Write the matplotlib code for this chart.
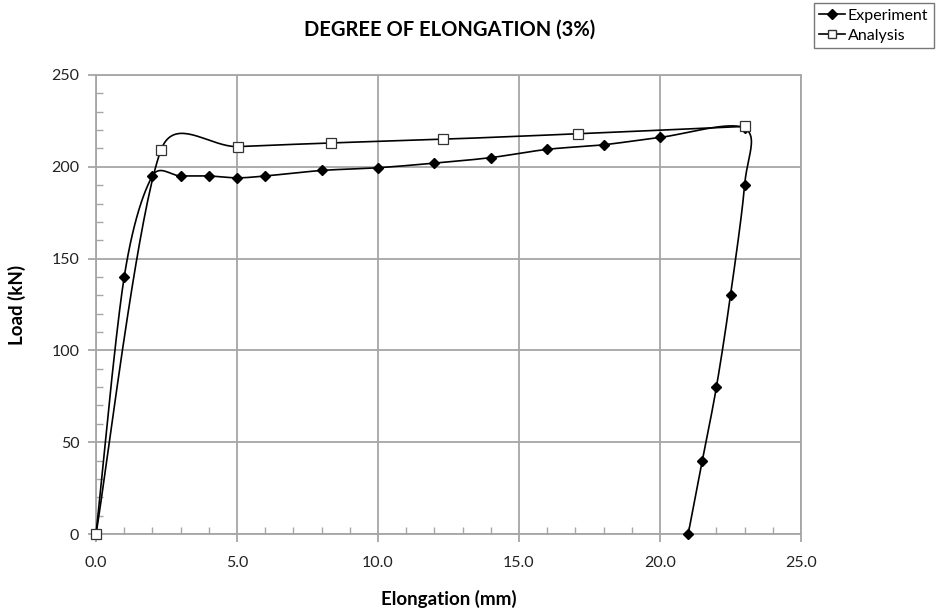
import numpy as np
import matplotlib.pyplot as plt
from matplotlib.ticker import MultipleLocator, FormatStrFormatter

# values
exp_x = [0, 1, 2, 3, 4, 5, 6, 8, 10, 12, 14, 16, 18, 20, 23, 23, 22.5, 22, 21.5, 21]
exp_y = [0, 140, 195, 195, 195, 194, 195, 198, 199.5, 202, 205, 209.5, 212, 216, 221, 190, 130, 80, 40, 0]
ana_x = [0, 2.3, 5.05, 8.35, 12.3, 17.1, 23]
ana_y = [0, 209, 211, 213, 215, 218, 222]

XMAX, YMAX = 25, 250
W, H = 705, 459  # plot area in pixels


def smooth(xs, ys, n=40, cap=0.5):
    # Excel-like smoothed line: cubic Bezier pieces through the points,
    # tangent (p2-p0)/6 but capped to a share of the segment length
    P = np.column_stack([np.asarray(xs, float) / XMAX * W,
                         np.asarray(ys, float) / YMAX * H])
    Q = np.vstack([P[0], P, P[-1]])
    out = []
    for i in range(1, len(Q) - 2):
        p0, p1, p2, p3 = Q[i - 1], Q[i], Q[i + 1], Q[i + 2]
        seg = np.linalg.norm(p2 - p1)
        d1 = (p2 - p0) / 6
        d2 = (p3 - p1) / 6
        for d in (d1, d2):
            L = np.linalg.norm(d)
            if L > cap * seg and L > 0:
                d *= cap * seg / L
        c1 = p1 + d1
        c2 = p2 - d2
        t = np.linspace(0, 1, n)[:, None]
        out.append((1 - t) ** 3 * p1 + 3 * (1 - t) ** 2 * t * c1
                   + 3 * (1 - t) * t ** 2 * c2 + t ** 3 * p2)
    out = np.vstack(out)
    return out[:, 0] / W * XMAX, out[:, 1] / H * YMAX


plt.rcParams['font.family'] = ['Lato', 'DejaVu Sans']

fig = plt.figure(figsize=(9.41, 6.14), dpi=100)
ax = fig.add_axes([96 / 941, 80 / 614, W / 941, H / 614])

grey = '#a6a6a6'

sx, sy = smooth(exp_x, exp_y)
ax.plot(sx, sy, color='black', lw=1.2, zorder=3, clip_on=False)
ax.plot(exp_x, exp_y, ls='none', marker='D', ms=5.5, mfc='black', mec='black',
        zorder=4, clip_on=False)

sx, sy = smooth(ana_x, ana_y)
ax.plot(sx, sy, color='black', lw=1.2, zorder=3, clip_on=False)
ax.plot(ana_x, ana_y, ls='none', marker='s', ms=7.5, mfc='white', mec='#333333',
        mew=0.9, zorder=5, clip_on=False)

ax.set_xlim(0, XMAX)
ax.set_ylim(0, YMAX)
ax.xaxis.set_major_locator(MultipleLocator(5))
ax.xaxis.set_minor_locator(MultipleLocator(1))
ax.yaxis.set_major_locator(MultipleLocator(50))
ax.yaxis.set_minor_locator(MultipleLocator(10))
ax.xaxis.set_major_formatter(FormatStrFormatter('%.1f'))

ax.grid(True, which='major', color=grey, lw=1.3)
ax.set_axisbelow(True)
for s in ax.spines.values():
    s.set_color(grey)
    s.set_linewidth(1.3)

ax.tick_params(which='major', direction='out', length=6, width=1.3, color=grey,
               labelsize=11.5, labelcolor='#222222', pad=6)
ax.tick_params(which='minor', direction='in', length=5, width=1, color=grey)
ax.tick_params(axis='x', pad=10)

ax.set_xlabel('Elongation (mm)', fontsize=13.5, fontweight='bold', labelpad=14)
ax.set_ylabel('Load (kN)', fontsize=13.5, fontweight='bold', labelpad=18)
fig.text(450 / 941, 1 - 30 / 614, 'DEGREE OF ELONGATION (3%)', ha='center', va='center',
         fontsize=14.5, fontweight='bold')

# legend
h1, = ax.plot([], [], color='black', lw=1.2, marker='D', ms=5, mfc='black')
h2, = ax.plot([], [], color='black', lw=1.2, marker='s', ms=6, mfc='white', mec='#333333')
leg = fig.legend([h1, h2], ['Experiment', 'Analysis'], loc='upper right',
                 bbox_to_anchor=(934 / 941, 1 - 3 / 614), fontsize=11.5,
                 frameon=True, fancybox=False, handlelength=1.6, handletextpad=0.2,
                 borderpad=0.35, labelspacing=0.35, borderaxespad=0)
leg.get_frame().set_edgecolor('#555555')
leg.get_frame().set_linewidth(1.0)

fig.savefig('out.png', dpi=100)
